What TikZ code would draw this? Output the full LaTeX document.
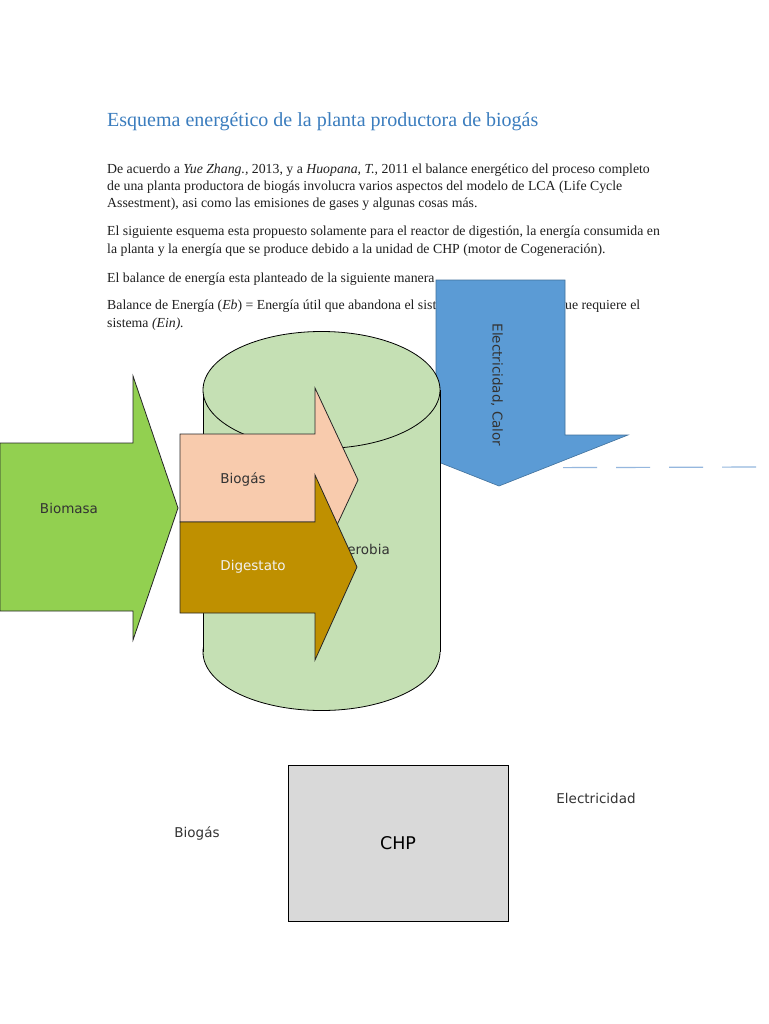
\documentclass[tikz,border=0pt]{standalone}
\usepackage{fontspec}
\setmainfont{Liberation Serif}
\newfontfamily\etiq{DejaVu Sans}
\usepackage{tikz}
\usetikzlibrary{calc}
\definecolor{titulo}{RGB}{59,125,190}
\definecolor{verde}{RGB}{146,208,80}
\definecolor{verdeclaro}{RGB}{197,224,180}
\definecolor{salmon}{RGB}{248,203,173}
\definecolor{oro}{RGB}{191,144,0}
\definecolor{azul}{RGB}{91,155,213}
\definecolor{azulborde}{RGB}{65,113,156}
\definecolor{gris}{RGB}{217,217,217}
\definecolor{raya}{RGB}{149,183,222}

\begin{document}
\begin{tikzpicture}[x=1pt,y=-1pt,
	texto/.style={anchor=base west,inner sep=0pt,text=black!88,font=\fontsize{13.8}{16}\selectfont},
	etiqueta/.style={inner sep=0pt,text=black!80,font=\etiq\fontsize{13.5}{16}\selectfont},
	flecha/.style={draw=black!85,line width=0.8pt,line join=miter}]
	\useasboundingbox[fill=white] (0,0) rectangle (768,1024);
	% titulo y texto
	\node[anchor=base west,inner sep=0pt,text=titulo,font=\fontsize{20}{24}\selectfont] (titulo) at (107,127) {Esquema energético de la planta productora de biogás};
	\node[texto] (p1a) at (107,174) {De acuerdo a \textit{Yue Zhang.,} 2013, y a \textit{Huopana, T.,} 2011 el balance energético del proceso completo};
	\node[texto] (p1b) at (107,191) {de una planta productora de biogás involucra varios aspectos del modelo de LCA (Life Cycle};
	\node[texto] (p1c) at (107,208) {Assestment), asi como las emisiones de gases y algunas cosas más.};
	\node[texto] (p2a) at (107,236) {El siguiente esquema esta propuesto solamente para el reactor de digestión, la energía consumida en};
	\node[texto] (p2b) at (107,253) {la planta y la energía que se produce debido a la unidad de CHP (motor de Cogeneración).};
	\node[texto] (p3) at (107,282) {El balance de energía esta planteado de la siguiente manera};
	\node[texto] (p4a) at (107,309) {Balance de Energía (\textit{Eb}) = Energía útil que abandona el sistema (\textit{Eout}) -- Energía que requiere el};
	\node[texto] (p4b) at (107,327) {sistema \textit{(Ein).}};
	% linea discontinua
	\draw[raya,line width=1.2pt,dash pattern=on 34pt off 19pt,dash phase=39pt] (443,468) -- (762,467);
	% flecha electricidad, calor
	\filldraw[fill=azul,draw=azulborde,line width=0.6pt] (436,280) -- (565,280) -- (565,435) -- (628,435) -- (499,486) -- (370,435) -- (436,435) -- cycle;
	\node[etiqueta,rotate=-90] (elec) at (497,385) {Electricidad, Calor};
	% reactor (cilindro)
	\filldraw[fill=verdeclaro,draw=black,line width=0.8pt] (321.5,652) ellipse [x radius=118.5, y radius=58.5];
	\fill[verdeclaro] (203,390) rectangle (440,652);
	\draw[line width=0.8pt] (203,390) -- (203,652) (440,390) -- (440,652);
	\filldraw[fill=verdeclaro,draw=black,line width=0.8pt] (321.5,390) ellipse [x radius=118.5, y radius=58.5];
	\node[etiqueta,anchor=east] (reactor) at (390,550) {Digestión anaerobia};
	% flechas de entrada y salida
	\filldraw[flecha,fill=verde] (0,443) -- (133,443) -- (133,376) -- (178,508) -- (133,640) -- (133,611) -- (0,611) -- cycle;
	\node[etiqueta] (biomasa) at (69,508) {Biomasa};
	\filldraw[flecha,fill=salmon] (180,434) -- (315,434) -- (315,388) -- (358,480) -- (315,572) -- (315,522) -- (180,522) -- cycle;
	\node[etiqueta] (biogas) at (243,480) {Biogás};
	\filldraw[flecha,fill=oro] (180,522) -- (315,522) -- (315,475) -- (357,567) -- (315,660) -- (315,613) -- (180,613) -- cycle;
	\node[etiqueta,text=white!95!black] (digestato) at (253,567) {Digestato};
	% unidad CHP
	\node[draw=black,line width=0.8pt,fill=gris,minimum width=220pt,minimum height=156pt,inner sep=0pt,font=\etiq\fontsize{17.5}{20}\selectfont] (chp) at (398,843) {CHP};
	\node[etiqueta] (entrada) at (197,833) {Biogás};
	\node[etiqueta] (salida) at (596,798) {Electricidad};
\end{tikzpicture}
\end{document}
